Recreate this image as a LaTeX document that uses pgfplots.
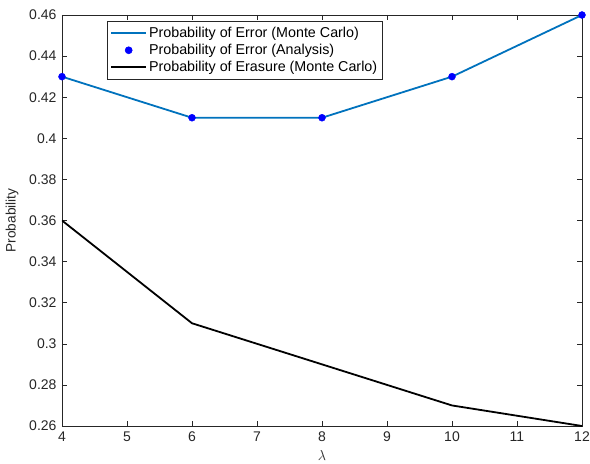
\documentclass[border=0pt]{standalone}
\usepackage{fontspec}
\setmainfont{Liberation Sans}
\usepackage{pgfplots}
\pgfplotsset{compat=1.18}
\definecolor{mblue}{HTML}{0072BD}
\definecolor{axgray}{HTML}{262626}
\pgfplotsset{
  legline/.style={legend image code/.code={\draw[##1] (0pt,0pt) -- (35pt,0pt);}},
  legmark/.style={legend image code/.code={\draw[##1] plot coordinates {(17.5pt,0pt)};}},
}
\begin{document}
\begin{tikzpicture}
\begin{axis}[
  scale only axis,
  width=520pt, height=411pt,
  xmin=4, xmax=12, ymin=0.26, ymax=0.46,
  xtick={4,5,...,12},
  ytick={0.26,0.28,...,0.46},
  tick align=inside,
  major tick length=5pt,
  axis line style={axgray, line width=0.6pt},
  every tick/.style={axgray, line width=0.6pt},
  tick label style={font=\fontsize{14pt}{16pt}\selectfont, text=axgray},
  label style={font=\fontsize{13.7pt}{15pt}\selectfont, text=axgray},
  /pgf/number format/assume math mode=true,
  yticklabel style={/pgf/number format/fixed, /pgf/number format/precision=2, xshift=-2pt},
  xticklabel style={yshift=-2pt},
  xlabel={$\lambda$},
  ylabel={Probability},
  xlabel style={at={(axis description cs:0.5,0)}, anchor=center, yshift=-29pt},
  ylabel style={at={(axis description cs:0,0.5)}, anchor=center, xshift=0pt, yshift=50pt},
  legend cell align=left,
  legend style={at={(0.0865,0.985)}, anchor=north west, draw=axgray,
    line width=0.6pt, font=\fontsize{14.3pt}{16pt}\selectfont,
    row sep=1pt, inner xsep=3pt, inner ysep=4pt},
]
\addplot[color=mblue, line width=1.8pt, legline] coordinates {
  (4,0.43)(6,0.41)(8,0.41)(10,0.43)(12,0.46)
};
\addlegendentry{Probability of Error (Monte Carlo)}
\addplot[only marks, mark=*, mark size=3.5pt, color=blue, legmark] coordinates {
  (4,0.43)(6,0.41)(8,0.41)(10,0.43)(12,0.46)
};
\addlegendentry{Probability of Error (Analysis)}
\addplot[color=black, line width=1.8pt, legline] coordinates {
  (4,0.36)(6,0.31)(8,0.29)(10,0.27)(12,0.26)
};
\addlegendentry{Probability of Erasure (Monte Carlo)}
\end{axis}
\pgfresetboundingbox
\path (current axis.south west) ++(-62pt,-37pt) coordinate (bbA);
\path (current axis.north east) ++(8pt,15pt) coordinate (bbB);
\useasboundingbox (bbA) rectangle (bbB);
\end{tikzpicture}
\end{document}
